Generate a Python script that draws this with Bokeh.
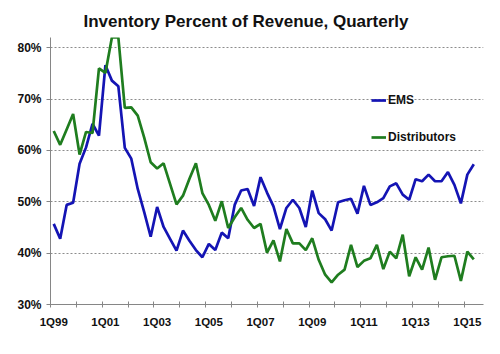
from bokeh.plotting import figure
from bokeh.models import Range1d, FixedTicker, Legend, LegendItem
from bokeh.embed import file_html
from bokeh.resources import INLINE

# quarters: index 0 = 1Q99 ... 65 = 2Q15
quarter_index = list(range(66))
ems = [45.7, 42.8, 49.4, 49.8, 57.4, 60.6, 65.2, 62.9, 76.6, 73.6,
       72.5, 60.5, 58.4, 52.5, 48.0, 43.2, 49.0, 45.1, 42.8, 40.5,
       44.4, 42.4, 40.6, 39.2, 41.8, 40.6, 44.0, 42.9, 49.4, 52.2,
       52.5, 49.2, 54.8, 51.8, 49.1, 44.7, 48.8, 50.4, 48.8, 45.1,
       52.2, 47.8, 46.6, 44.4, 49.9, 50.3, 50.6, 47.7, 53.1, 49.4,
       49.9, 50.7, 53.0, 53.6, 51.4, 50.4, 54.4, 54.0, 55.3, 54.0,
       54.0, 55.8, 53.3, 49.7, 55.3, 57.3]
distributors = [63.8, 61.1, 64.1, 67.1, 59.2, 63.6, 63.4, 76.0, 75.1, 82.0,
                82.0, 68.3, 68.4, 66.8, 62.5, 57.7, 56.5, 57.5, 53.5, 49.5,
                51.2, 54.5, 57.5, 51.7, 49.4, 46.3, 50.1, 44.9, 47.0, 48.8,
                46.5, 44.9, 45.7, 40.1, 42.5, 38.4, 44.7, 41.9, 41.9, 40.6,
                42.9, 38.7, 35.8, 34.3, 35.8, 36.8, 41.6, 37.3, 38.5, 39.0,
                41.6, 36.9, 40.3, 39.0, 43.6, 35.5, 39.2, 36.8, 41.1, 34.8,
                39.2, 39.4, 39.5, 34.6, 40.3, 38.8]
tick_positions = [0, 8, 16, 24, 32, 40, 48, 56, 64]
tick_labels = ["1Q99", "1Q01", "1Q03", "1Q05", "1Q07", "1Q09", "1Q11", "1Q13", "1Q15"]
y_ticks = [30, 40, 50, 60, 70, 80]
y_labels = ["30%", "40%", "50%", "60%", "70%", "80%"]
n_categories = 67

FONT = "Liberation Sans"
BLUE = "#1414b4"
GREEN = "#1f7d1f"
GRAY = "#868686"

p = figure(width=500, height=354, output_backend="svg", toolbar_location=None,
           x_range=Range1d(-0.5, n_categories - 0.5), y_range=Range1d(30, 82),
           min_border_left=50, min_border_right=17, min_border_top=37,
           min_border_bottom=50)
p.outline_line_color = None
p.background_fill_color = "white"
p.border_fill_color = "white"

p.title.text = "Inventory  Percent  of  Revenue,  Quarterly"
p.title.align = "left"
p.title.offset = 33
p.title.standoff = 13
p.title.text_font = FONT
p.title.text_font_style = "bold"
p.title.text_font_size = "17px"
p.title.text_color = "#111111"

r1 = p.line(quarter_index, ems, line_color=BLUE, line_width=2.7)
r2 = p.line(quarter_index, distributors, line_color=GREEN, line_width=2.7)

# y axis
p.yaxis.ticker = FixedTicker(ticks=y_ticks)
p.yaxis.major_label_overrides = dict(zip(y_ticks, y_labels))
p.yaxis.axis_line_color = GRAY
p.yaxis.major_tick_line_color = GRAY
p.yaxis.major_tick_in = 0
p.yaxis.major_tick_out = 4
p.yaxis.minor_tick_line_color = None
p.yaxis.major_label_standoff = 5
p.yaxis.major_label_text_font = FONT
p.yaxis.major_label_text_font_style = "bold"
p.yaxis.major_label_text_font_size = "12px"
p.yaxis.major_label_text_color = "#111111"

p.ygrid.ticker = FixedTicker(ticks=y_ticks)
p.ygrid.grid_line_color = "#8c8c8c"
p.ygrid.grid_line_dash = "2 2"
p.ygrid.grid_line_width = 1
p.xgrid.visible = False

# x axis
p.xaxis.ticker = FixedTicker(ticks=tick_positions,
                             minor_ticks=[-0.5 + 4 * k for k in range(17)])
p.xaxis.major_label_overrides = dict(zip(tick_positions, tick_labels))
p.xaxis.axis_line_color = GRAY
p.xaxis.major_tick_line_color = None
p.xaxis.major_tick_in = 0
p.xaxis.major_tick_out = 0
p.xaxis.minor_tick_line_color = GRAY
p.xaxis.minor_tick_in = 3
p.xaxis.minor_tick_out = 3
p.xaxis.major_label_standoff = 8
p.xaxis.major_label_text_font = FONT
p.xaxis.major_label_text_font_style = "bold"
p.xaxis.major_label_text_font_size = "11.5px"
p.xaxis.major_label_text_color = "#111111"

legend = Legend(items=[LegendItem(label="EMS", renderers=[r1]),
                       LegendItem(label="Distributors", renderers=[r2])],
                location=(321, 157), border_line_color=None,
                background_fill_alpha=0, padding=0, margin=0, spacing=17,
                glyph_width=15, glyph_height=20, label_height=20,
                label_standoff=2, label_text_font=FONT,
                label_text_font_style="bold", label_text_font_size="12px",
                label_text_color="#111111")
p.add_layout(legend)

open("out.html", "w").write(file_html(p, INLINE))
